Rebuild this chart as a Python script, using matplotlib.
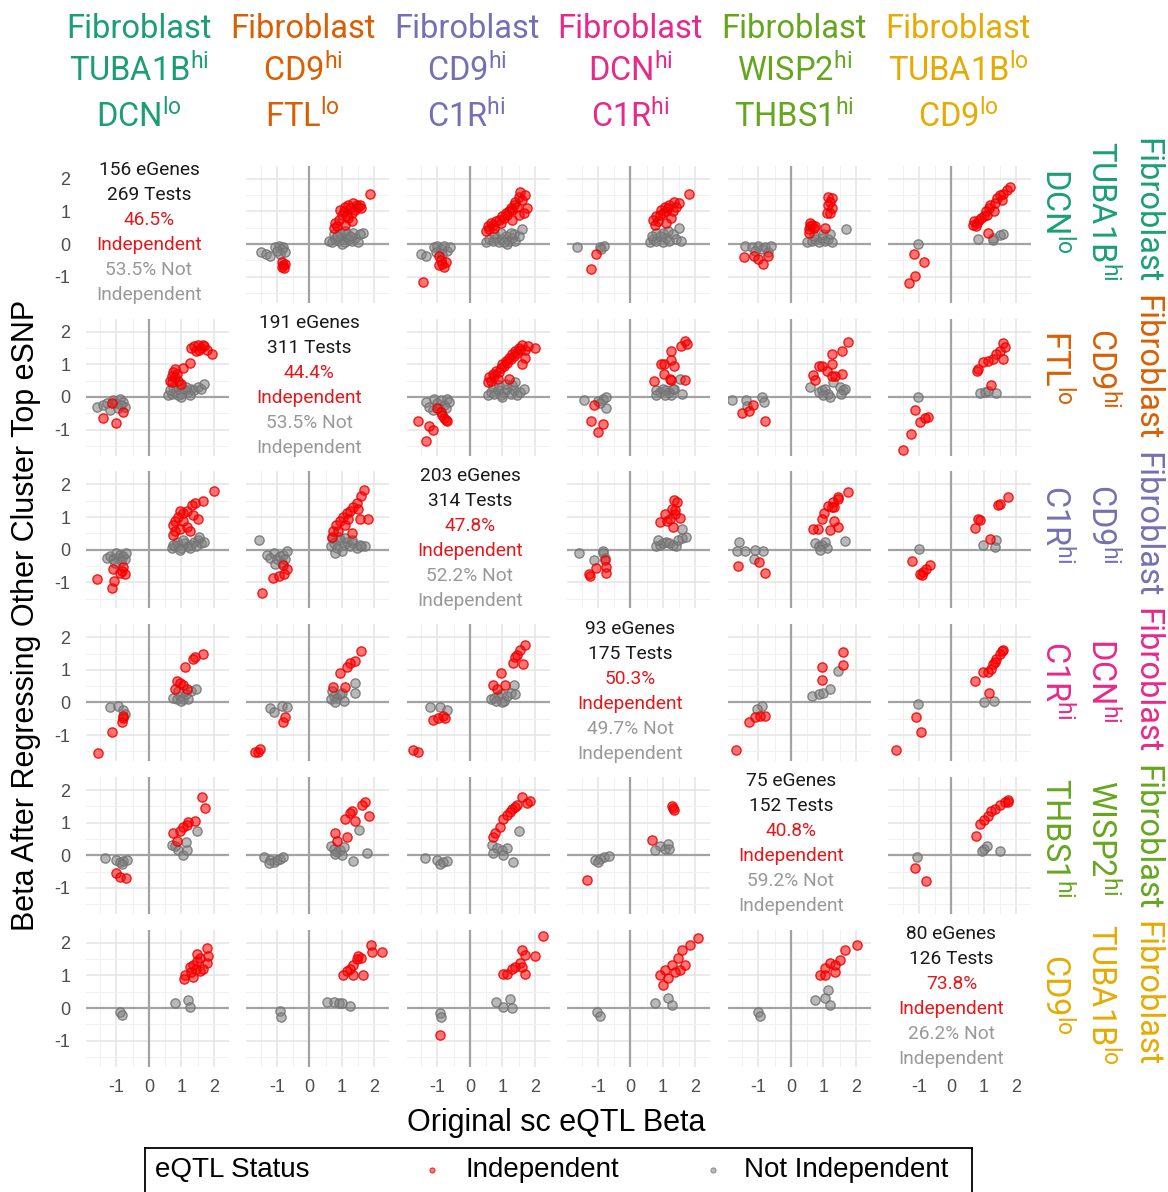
import matplotlib
matplotlib.use("Agg")
import matplotlib.pyplot as plt

plt.rcParams['font.family'] = ['Liberation Sans', 'DejaVu Sans']
plt.rcParams['axes.unicode_minus'] = False
plt.rcParams['mathtext.fontset'] = 'custom'
plt.rcParams['mathtext.rm'] = 'Roboto'
plt.rcParams['mathtext.it'] = 'Roboto:italic'
plt.rcParams['mathtext.bf'] = 'Roboto:bold'

# ---------------- labels ----------------
cluster_name = ["Fibroblast"] * 6
gene1 = ["TUBA1B", "CD9", "CD9", "DCN", "WISP2", "TUBA1B"]
sup1 = ["hi", "hi", "hi", "hi", "hi", "lo"]
gene2 = ["DCN", "FTL", "C1R", "C1R", "THBS1", "CD9"]
sup2 = ["lo", "lo", "hi", "hi", "hi", "lo"]
cluster_colors = ["#1B9E77", "#D95F02", "#7570B3", "#E7298A", "#66A61E", "#E6AB02"]

egenes = [156, 191, 203, 93, 75, 80]
tests = [269, 311, 314, 175, 152, 126]
pct_indep = ["46.5%", "44.4%", "47.8%", "50.3%", "40.8%", "73.8%"]
pct_not = ["53.5%", "53.5%", "52.2%", "49.7%", "59.2%", "26.2%"]

tick_vals = [-1, 0, 1, 2]
tick_labels = ["-1", "0", "1", "2"]

x_title = "Original sc eQTL Beta"
y_title = "Beta After Regressing Other Cluster Top eSNP"
legend_title = "eQTL Status"
status_labels = ["Independent", "Not Independent"]

# ---------------- data: (x, y) points per panel (row, col) ----------------
ind_0_1 = [(0.75,0.5),(0.8,0.65),(0.85,0.55),(0.9,0.75),(1.0,0.9),(1.05,1.0),(1.1,1.15),(1.15,0.85),(1.2,1.2),(1.25,1.1),(1.3,0.95),(1.35,1.25),(1.4,1.05),(1.45,1.2),(1.5,1.15),(1.3,0.7),(1.1,0.6),(1.85,1.55),(1.2,0.8),(0.95,1.05),(1.6,1.1),(1.55,1.2),(-0.85,-0.55),(-0.8,-0.65),(-0.75,-0.6),(-0.85,-0.7),(-0.78,-0.72)]
not_0_1 = [(0.6,0.1),(0.7,0.05),(0.8,0.15),(0.9,0.1),(1.0,0.2),(1.1,0.05),(1.2,0.15),(1.3,0.1),(1.4,0.2),(1.5,0.05),(0.75,0.3),(0.95,0.35),(1.15,0.3),(1.35,0.35),(1.0,0.0),(1.25,0.25),(1.65,0.35),(1.55,0.3),(0.85,0.25),(1.1,0.4),(-1.5,-0.25),(-1.35,-0.3),(-1.2,-0.35),(-1.05,-0.1),(-0.95,-0.05),(-0.85,-0.15),(-0.9,-0.3),(-0.8,-0.1),(-1.0,-0.2),(-0.75,-0.25)]
ind_0_2 = [(0.5,0.4),(0.55,0.55),(0.6,0.45),(0.7,0.6),(0.75,0.5),(0.8,0.7),(0.9,0.75),(0.95,0.65),(1.0,0.85),(1.05,0.8),(1.1,0.95),(1.15,0.9),(1.2,1.0),(1.25,1.1),(1.3,1.05),(1.35,1.2),(1.4,1.3),(1.45,1.15),(1.5,1.45),(1.55,1.6),(1.6,1.35),(1.7,1.5),(1.75,1.1),(1.5,0.9),(1.3,0.75),(1.65,0.95),(0.65,0.65),(-1.45,-1.15),(-0.95,-0.35),(-0.9,-0.5),(-0.85,-0.6),(-0.75,-0.55),(-0.8,-0.7),(-0.95,-0.65)]
not_0_2 = [(0.5,0.05),(0.6,0.15),(0.7,0.1),(0.8,0.2),(0.9,0.05),(1.0,0.15),(1.1,0.25),(1.2,0.1),(1.3,0.2),(1.4,0.1),(1.5,0.25),(0.75,0.3),(0.95,0.35),(1.15,0.0),(1.35,0.3),(1.6,0.45),(1.25,0.35),(1.05,0.05),(-1.5,-0.3),(-1.35,-0.35),(-1.1,-0.1),(-1.0,-0.05),(-0.9,-0.15),(-0.8,-0.05),(-0.7,-0.2),(-1.05,-0.25),(-0.6,-0.1),(-0.85,-0.3)]
ind_0_3 = [(0.7,0.75),(0.8,0.85),(0.85,0.7),(0.9,0.9),(0.95,1.05),(1.0,0.95),(1.05,1.15),(1.1,1.0),(1.15,1.1),(1.2,1.2),(1.3,1.0),(1.35,1.3),(1.4,1.15),(1.25,0.8),(1.8,1.55),(1.5,1.25),(0.75,0.6),(1.1,0.65),(-1.05,-0.3),(-1.2,-0.75)]
not_0_3 = [(0.6,0.05),(0.7,0.15),(0.8,0.1),(0.9,0.25),(1.0,0.05),(1.1,0.2),(1.2,0.1),(1.3,0.3),(1.0,0.35),(0.8,0.35),(1.4,0.15),(1.5,0.5),(1.55,0.1),(0.65,0.25),(1.15,0.4),(-1.65,-0.1),(-0.95,-0.1),(-0.8,-0.05),(-0.9,-0.15)]
ind_0_4 = [(1.15,1.45),(1.25,1.4),(1.2,1.3),(1.15,1.2),(1.25,1.1),(1.1,0.95),(1.2,0.95),(0.55,0.45),(0.6,0.55),(0.65,0.6),(0.7,0.5),(0.6,0.65),(0.75,0.55),(0.55,0.35),(1.05,0.5),(-1.45,-0.4),(-1.15,-0.35),(-0.85,-0.6),(-0.7,-0.35),(-1.0,-0.45)]
not_0_4 = [(0.5,0.05),(0.65,0.1),(0.75,0.15),(0.85,0.05),(0.95,0.2),(1.05,0.1),(1.15,0.15),(1.25,0.05),(0.7,0.25),(1.0,0.3),(1.7,0.45),(1.2,0.3),(-1.4,-0.05),(-1.2,-0.1),(-1.0,-0.05),(-0.9,-0.15),(-0.8,-0.1),(-0.7,-0.25),(-0.6,-0.05),(-1.1,-0.2)]
ind_0_5 = [(0.65,0.6),(0.7,0.7),(0.8,0.65),(0.85,0.75),(0.9,0.8),(1.0,0.85),(1.05,1.0),(1.1,0.9),(1.15,1.1),(1.2,1.2),(1.3,1.0),(1.35,1.25),(1.4,1.4),(1.5,1.5),(1.6,1.55),(1.7,1.65),(1.8,1.75),(1.55,1.35),(0.75,0.55),(1.11,0.33),(-1.15,-0.3),(-0.84,-0.54),(-1.13,-0.98),(-1.3,-1.2)]
not_0_5 = [(0.82,0.15),(1.28,0.18),(1.49,0.27),(1.58,0.3),(1.28,0.12),(-1.04,0.0)]

ind_1_0 = [(1.3,1.5),(1.4,1.55),(1.5,1.6),(1.6,1.5),(1.7,1.55),(1.8,1.45),(1.45,1.4),(1.55,1.45),(1.65,1.6),(1.95,1.3),(1.05,0.9),(1.25,1.05),(0.65,0.5),(0.7,0.65),(0.75,0.75),(0.8,0.6),(0.85,0.7),(0.9,0.5),(0.7,0.45),(1.0,0.4),(0.8,0.85),(-1.4,-0.65),(-1.0,-0.8),(-0.8,-0.45),(-1.15,-0.2)]
not_1_0 = [(0.6,0.05),(0.7,0.1),(0.8,0.15),(0.9,0.05),(1.0,0.1),(1.1,0.2),(1.2,0.15),(1.3,0.25),(1.4,0.2),(1.5,0.3),(1.6,0.25),(1.7,0.4),(0.75,0.3),(0.95,0.35),(1.15,0.3),(1.0,0.0),(0.65,0.2),(1.25,0.05),(-1.6,-0.3),(-1.4,-0.25),(-1.3,-0.2),(-1.2,-0.4),(-1.1,-0.1),(-1.0,-0.2),(-0.9,-0.05),(-0.8,-0.15),(-0.75,-0.3),(-0.95,-0.35),(-0.85,-0.25)]
ind_1_2 = [(0.55,0.45),(0.6,0.6),(0.65,0.5),(0.7,0.7),(0.75,0.65),(0.8,0.8),(0.9,0.75),(0.95,0.9),(1.0,1.0),(1.05,0.95),(1.1,1.1),(1.15,1.05),(1.2,1.2),(1.25,1.15),(1.3,1.3),(1.35,1.25),(1.4,1.4),(1.45,1.35),(1.5,1.5),(1.55,1.45),(1.6,1.6),(1.7,1.45),(1.8,1.55),(2.0,1.5),(1.7,1.2),(1.6,1.0),(1.2,0.55),(0.85,0.55),(-1.6,-0.75),(-1.25,-0.9),(-1.15,-1.0),(-1.35,-1.35),(-1.0,-0.35),(-0.9,-0.45),(-0.85,-0.55),(-0.8,-0.65),(-0.75,-0.7),(-0.7,-0.75)]
not_1_2 = [(0.55,0.05),(0.65,0.15),(0.75,0.1),(0.85,0.2),(0.95,0.05),(1.05,0.15),(1.15,0.25),(1.25,0.1),(1.35,0.2),(1.45,0.05),(1.55,0.15),(1.65,0.25),(0.7,0.3),(0.9,0.35),(1.1,0.4),(1.3,0.35),(1.0,0.0),(1.4,0.45),(-1.35,-0.15),(-1.25,-0.3),(-1.1,-0.05),(-1.0,-0.2),(-0.9,-0.1),(-0.8,-0.25),(-0.7,-0.05),(-0.65,-0.15),(-1.15,-0.4),(-0.95,-0.35),(-0.75,-0.35)]
ind_1_3 = [(1.67,1.72),(1.75,1.62),(1.54,1.56),(1.26,1.41),(0.95,1.0),(1.03,1.0),(1.26,1.12),(1.33,0.95),(1.03,0.7),(1.21,0.54),(1.26,0.51),(1.67,0.52),(0.73,0.49),(-1.12,-0.26),(-1.2,-0.74),(-0.84,-0.82),(-0.99,-1.09)]
not_1_3 = [(0.8,0.2),(0.9,0.15),(1.0,0.25),(1.1,0.2),(1.2,0.15),(1.3,0.25),(0.8,0.05),(1.25,0.05),(1.6,0.1),(1.52,0.55),(1.35,0.25),(1.05,0.05),(-1.44,-0.1),(-1.0,-0.14),(-0.84,-0.07),(-0.76,0.0),(-0.76,-0.33),(-0.94,-0.2)]
ind_1_4 = [(1.76,1.69),(1.56,1.41),(1.25,1.31),(1.25,1.0),(0.86,0.95),(0.69,0.67),(0.74,0.52),(1.1,0.8),(1.35,0.64),(1.56,0.7),(1.25,0.64),(0.94,0.95),(-1.52,-0.48),(-1.29,-0.43),(-1.16,-0.26),(-0.8,-0.74)]
not_1_4 = [(0.58,0.29),(0.85,0.15),(0.95,0.2),(1.05,0.25),(1.15,0.1),(1.0,0.05),(1.2,0.0),(1.3,0.46),(1.5,0.3),(1.6,0.2),(1.65,0.25),(1.55,0.1),(-1.83,-0.1),(-1.39,-0.1),(-0.9,0.0),(-0.82,-0.17),(-1.36,-0.28)]
ind_1_5 = [(1.59,1.65),(1.49,1.42),(1.38,1.32),(1.28,1.17),(1.13,1.11),(0.97,1.06),(0.82,0.86),(0.77,0.79),(1.59,1.17),(1.23,0.35),(1.64,1.52),(-1.13,-0.4),(-0.97,-0.78),(-0.82,-0.65),(-0.72,-0.62),(-1.25,-1.13),(-1.49,-1.63)]
not_1_5 = [(0.87,0.11),(1.03,0.14),(1.38,0.11),(1.13,0.17),(-1.03,0.0)]

ind_2_0 = [(2.0,1.8),(1.65,1.5),(1.42,1.42),(1.31,1.36),(1.16,1.18),(1.06,1.12),(0.95,1.18),(0.8,0.87),(0.75,0.75),(0.8,0.57),(0.73,0.45),(0.95,0.63),(1.16,0.69),(1.26,0.57),(1.52,0.93),(1.36,1.06),(1.06,0.87),(0.9,1.0),(-1.61,-0.91),(-1.15,-1.16),(-1.08,-0.95),(-1.1,-0.58),(-0.84,-0.64),(-0.74,-0.74),(-0.9,-0.7),(-0.79,-0.52)]
not_2_0 = [(0.7,0.05),(0.8,0.1),(0.9,0.15),(1.0,0.05),(1.1,0.2),(1.2,0.1),(1.3,0.15),(1.4,0.25),(1.5,0.3),(1.6,0.2),(1.7,0.25),(0.85,0.25),(1.05,0.3),(1.25,0.05),(1.45,0.1),(0.75,0.15),(1.55,0.4),(0.95,0.0),(-1.3,-0.25),(-1.2,-0.2),(-1.1,-0.3),(-1.0,-0.1),(-0.95,-0.25),(-0.9,-0.15),(-0.8,-0.2),(-0.75,-0.3),(-0.7,-0.1),(-0.85,-0.35),(-1.05,-0.4)]
ind_2_1 = [(1.68,1.84),(1.6,1.66),(1.45,1.42),(1.35,1.3),(1.25,1.18),(1.14,1.12),(1.04,0.99),(0.94,0.87),(0.83,0.75),(0.73,0.57),(0.68,0.39),(1.55,0.93),(1.8,0.93),(1.3,0.51),(1.09,0.75),(0.89,0.57),(1.19,0.93),(1.5,1.24),(-1.47,-1.33),(-1.11,-0.86),(-0.93,-0.82),(-0.78,-0.76),(-0.7,-0.58),(-0.81,-0.46)]
not_2_1 = [(0.65,0.1),(0.75,0.2),(0.85,0.05),(0.95,0.3),(1.05,0.15),(1.15,0.25),(1.25,0.1),(1.35,0.2),(1.45,0.05),(1.55,0.15),(1.7,0.1),(0.7,0.35),(0.9,0.4),(1.0,-0.05),(1.1,0.35),(1.3,0.3),(0.8,-0.1),(1.6,0.1),(-1.56,0.29),(-1.3,-0.15),(-1.2,-0.25),(-1.1,-0.1),(-1.0,-0.3),(-0.9,-0.2),(-0.8,-0.15),(-0.7,-0.05),(-1.05,-0.45),(-0.85,-0.4),(-0.75,-0.3)]
ind_2_3 = [(1.33,1.52),(1.42,1.45),(1.29,1.24),(1.06,1.09),(1.36,1.09),(0.9,0.84),(1.11,0.89),(1.31,0.71),(1.52,0.97),(1.23,0.94),(1.36,1.22),(-1.25,-0.8),(-1.28,-0.75),(-1.07,-0.56),(-0.79,-0.32),(-0.76,-0.54),(-0.74,-0.7)]
not_2_3 = [(0.8,0.1),(0.9,0.15),(1.0,0.2),(1.1,0.25),(1.2,0.2),(1.3,0.15),(1.4,0.1),(0.85,0.3),(1.6,0.35),(1.45,0.3),(1.57,0.63),(1.72,0.4),(-1.58,-0.1),(-0.86,-0.03),(-0.84,-0.11),(-1.13,-0.32),(-0.79,-0.26)]
ind_2_4 = [(1.74,1.76),(1.46,1.6),(1.3,1.45),(1.33,1.3),(1.15,1.35),(1.03,1.11),(0.94,0.94),(1.33,0.89),(1.46,0.71),(1.2,0.6),(0.84,0.63),(0.69,0.63),(1.46,1.55),(1.25,1.3),(-1.64,-0.49),(-0.97,-0.39),(-0.8,-0.7)]
not_2_4 = [(0.75,0.2),(0.85,0.1),(0.95,0.15),(1.05,0.25),(1.1,0.05),(0.9,0.0),(1.66,0.28),(-1.59,0.23),(-1.67,-0.03),(-1.1,0.0),(-0.85,-0.05),(-1.13,-0.29),(-1.4,-0.05)]
ind_2_5 = [(1.74,1.62),(1.49,1.41),(1.44,1.36),(0.82,0.95),(0.72,0.67),(0.87,0.9),(1.18,0.34),(-1.21,-0.35),(-0.97,-0.74),(-0.87,-0.68),(-0.77,-0.58),(-0.67,-0.48),(-0.92,-0.79)]
not_2_5 = [(0.97,0.13),(1.38,0.29),(1.33,0.08),(-0.99,0.03)]

ind_3_0 = [(1.67,1.48),(1.42,1.39),(1.36,1.33),(1.11,1.09),(0.85,0.67),(0.95,0.61),(1.06,0.55),(0.8,0.42),(1.16,0.42),(-0.79,-0.48),(-0.84,-0.61),(-0.79,-0.42),(-1.15,-0.92),(-1.58,-1.55)]
not_3_0 = [(0.75,0.15),(0.85,0.1),(0.95,0.2),(1.05,0.1),(1.15,0.25),(1.3,0.35),(1.45,0.4),(0.9,0.35),(1.0,0.05),(1.2,0.1),(-1.2,-0.15),(-0.94,-0.12),(-0.79,-0.24),(-0.74,-0.36)]
ind_3_1 = [(1.6,1.58),(1.4,1.27),(1.25,1.21),(1.14,1.09),(0.94,0.91),(0.73,0.48),(1.09,0.46),(-0.8,-0.61),(-0.75,-0.46),(-1.57,-1.52),(-1.68,-1.52),(-1.52,-1.43)]
not_3_1 = [(0.65,0.1),(0.75,0.2),(0.85,0.15),(0.95,0.25),(1.05,0.05),(0.8,0.0),(1.0,0.3),(1.4,0.6),(1.4,0.3),(0.7,0.35),(-1.2,-0.18),(-1.1,-0.3),(-0.85,-0.12),(-0.7,-0.15)]
ind_3_2 = [(1.69,1.76),(1.54,1.6),(1.44,1.45),(1.33,1.21),(1.38,1.39),(1.64,1.18),(0.95,0.91),(0.72,0.55),(0.82,0.42),(1.08,0.55),(-1.59,-1.52),(-1.74,-1.45),(-1.13,-0.55),(-0.97,-0.48),(-0.82,-0.42),(-0.76,-0.48)]
not_3_2 = [(0.65,0.1),(0.75,0.15),(0.85,0.2),(0.95,0.25),(1.05,0.05),(1.15,0.2),(1.25,0.3),(1.0,0.0),(1.35,0.55),(1.4,0.25),(0.8,0.05),(-1.23,-0.15),(-0.92,-0.15),(-0.72,-0.24)]
ind_3_4 = [(1.6,1.55),(1.6,1.15),(0.95,1.1),(0.95,0.7),(-1.7,-1.45),(-1.3,-0.6),(-1.1,-0.45),(-0.95,-0.4),(-0.8,-0.4)]
not_3_4 = [(0.65,0.2),(0.85,0.25),(1.0,0.3),(1.2,0.4),(1.45,0.95),(-0.9,-0.1),(-1.05,-0.2)]
ind_3_5 = [(1.59,1.61),(1.49,1.49),(1.38,1.33),(1.28,1.18),(1.23,1.03),(1.13,0.92),(0.97,0.92),(0.72,0.65),(1.15,0.28),(1.54,1.57),(1.33,1.23),(-1.1,-0.43),(-0.94,-0.91),(-1.71,-1.47)]
not_3_5 = [(1.0,0.0),(1.31,0.06),(-1.03,-0.04)]

ind_4_0 = [(1.62,1.78),(1.72,1.45),(1.42,1.05),(1.21,1.03),(1.06,0.87),(0.95,0.75),(0.75,0.69),(0.85,0.45),(1.16,0.93),(-1.0,-0.55),(-0.89,-0.67),(-0.72,-0.7)]
not_4_0 = [(0.7,0.33),(0.8,0.27),(0.9,0.15),(1.06,0.02),(1.16,0.15),(1.49,0.73),(1.14,0.41),(-1.35,-0.07),(-1.0,-0.13),(-0.89,-0.22),(-0.79,-0.18),(-0.69,-0.13),(-0.84,-0.28)]
ind_4_1 = [(1.72,1.64),(1.62,1.54),(1.3,1.36),(1.25,1.3),(1.09,1.12),(1.4,1.05),(1.82,1.21),(0.79,0.69),(1.14,0.57),(0.84,0.45)]
not_4_1 = [(0.65,0.3),(0.75,0.2),(0.85,0.1),(0.95,0.15),(1.05,0.25),(1.0,0.0),(0.8,0.05),(1.53,0.79),(1.76,0.08),(1.35,-0.16),(-1.4,-0.05),(-1.2,-0.15),(-1.1,-0.2),(-1.0,-0.15),(-0.9,-0.1),(-0.8,-0.05),(-1.25,-0.25)]
ind_4_2 = [(1.6,1.78),(1.75,1.6),(1.44,1.54),(1.29,1.42),(1.13,1.24),(1.03,1.12),(0.92,0.87),(0.77,0.69),(0.72,0.57),(1.85,1.66),(1.39,1.48),(1.23,1.32)]
not_4_2 = [(0.67,0.33),(0.82,0.21),(0.97,0.15),(1.13,0.21),(0.72,0.08),(1.03,0.0),(1.52,0.75),(1.33,-0.22),(-1.38,-0.07),(-1.03,-0.13),(-0.92,-0.28),(-0.82,-0.22),(-0.72,-0.16)]
ind_4_3 = [(1.28,1.5),(1.33,1.38),(1.3,1.45),(0.66,0.46),(-1.34,-0.77)]
not_4_3 = [(0.9,0.3),(1.05,0.2),(1.15,0.35),(1.2,0.2),(0.75,0.15),(-1.1,-0.15),(-0.95,-0.1),(-0.8,-0.05),(-0.65,-0.03),(-1.0,-0.2)]
ind_4_5 = [(1.74,1.7),(1.66,1.63),(1.49,1.55),(1.33,1.42),(1.23,1.35),(1.11,1.19),(1.0,1.08),(0.87,0.96),(0.75,0.58),(1.74,1.63),(-1.13,-0.4),(-0.77,-0.78)]
not_4_5 = [(1.0,0.19),(1.08,0.3),(0.94,0.12),(1.49,0.12),(-1.05,-0.04)]

ind_5_0 = [(1.77,1.85),(1.82,1.61),(1.77,1.37),(1.57,1.55),(1.47,1.43),(1.36,1.31),(1.26,1.25),(1.11,1.0),(1.08,0.88),(1.36,0.95),(1.57,1.13),(1.67,1.19),(1.47,1.67),(1.3,1.1),(1.45,1.2)]
not_5_0 = [(0.8,0.16),(1.21,0.25),(1.26,0.04),(-0.89,-0.11),(-0.84,-0.21)]
ind_5_1 = [(1.88,1.92),(2.22,1.73),(1.91,1.73),(1.6,1.55),(1.45,1.49),(1.35,1.31),(1.24,1.19),(1.14,1.13),(1.04,1.0),(1.35,1.0),(1.65,1.0),(1.5,1.61)]
not_5_1 = [(0.55,0.2),(0.75,0.18),(0.9,0.15),(1.25,0.05),(1.0,0.16),(-0.9,-0.08),(-0.88,-0.27)]
ind_5_2 = [(2.26,2.22),(2.0,1.61),(1.59,1.77),(1.69,1.64),(1.54,1.39),(1.38,1.25),(1.28,1.19),(1.13,1.04),(1.03,1.03),(1.69,1.04),(1.59,1.25),(-0.92,-0.81)]
not_5_2 = [(0.8,0.18),(1.03,0.04),(1.22,0.28),(1.29,0.01),(-0.92,-0.15),(-0.9,-0.27)]
ind_5_3 = [(0.91,1.01),(1.06,1.17),(1.15,0.92),(1.28,1.32),(1.46,1.53),(1.6,1.78),(1.83,1.93),(2.08,2.15),(1.52,1.17),(1.37,1.1),(1.68,1.32),(1.0,0.7)]
not_5_3 = [(0.75,0.15),(1.15,0.3),(1.28,0.09),(-1.03,-0.12),(-0.94,-0.25)]
ind_5_4 = [(0.89,1.0),(1.05,1.23),(1.2,1.38),(1.35,1.32),(1.51,1.47),(1.66,1.78),(2.03,1.93),(1.05,1.0),(1.35,1.1)]
not_5_4 = [(0.74,0.25),(1.05,0.3),(1.2,0.1),(1.14,0.55),(-1.02,-0.12),(-0.95,-0.25)]

independent = {
    (0,1): ind_0_1, (0,2): ind_0_2, (0,3): ind_0_3, (0,4): ind_0_4, (0,5): ind_0_5,
    (1,0): ind_1_0, (1,2): ind_1_2, (1,3): ind_1_3, (1,4): ind_1_4, (1,5): ind_1_5,
    (2,0): ind_2_0, (2,1): ind_2_1, (2,3): ind_2_3, (2,4): ind_2_4, (2,5): ind_2_5,
    (3,0): ind_3_0, (3,1): ind_3_1, (3,2): ind_3_2, (3,4): ind_3_4, (3,5): ind_3_5,
    (4,0): ind_4_0, (4,1): ind_4_1, (4,2): ind_4_2, (4,3): ind_4_3, (4,5): ind_4_5,
    (5,0): ind_5_0, (5,1): ind_5_1, (5,2): ind_5_2, (5,3): ind_5_3, (5,4): ind_5_4,
}
not_independent = {
    (0,1): not_0_1, (0,2): not_0_2, (0,3): not_0_3, (0,4): not_0_4, (0,5): not_0_5,
    (1,0): not_1_0, (1,2): not_1_2, (1,3): not_1_3, (1,4): not_1_4, (1,5): not_1_5,
    (2,0): not_2_0, (2,1): not_2_1, (2,3): not_2_3, (2,4): not_2_4, (2,5): not_2_5,
    (3,0): not_3_0, (3,1): not_3_1, (3,2): not_3_2, (3,4): not_3_4, (3,5): not_3_5,
    (4,0): not_4_0, (4,1): not_4_1, (4,2): not_4_2, (4,3): not_4_3, (4,5): not_4_5,
    (5,0): not_5_0, (5,1): not_5_1, (5,2): not_5_2, (5,3): not_5_3, (5,4): not_5_4,
}

# ---------------- figure ----------------
W, H = 1168, 1192
fig = plt.figure(figsize=(W / 100, H / 100), dpi=100)
fig.patch.set_facecolor("white")

RED_FACE = (1.0, 0.0, 0.0, 0.55)
RED_EDGE = (0.93, 0.0, 0.0, 0.85)
GRAY_FACE = (0.5, 0.5, 0.5, 0.55)
GRAY_EDGE = (0.45, 0.45, 0.45, 0.85)
TXT_RED = "#E3191C"
TXT_GRAY = "#999999"
TXT_DARK = "#1A1A1A"

XLIM = (-1.95, 2.45)
YLIM = (-1.8, 2.4)
PW, PH = 143, 137


def fx(px):
    return px / W


def fy(py):
    return 1 - py / H


for r in range(6):
    for c in range(6):
        left = 85.6 + 160.5 * c
        top = 165.8 + 152.8 * r
        ax = fig.add_axes([fx(left), fy(top + PH), PW / W, PH / H])
        ax.set_xlim(*XLIM)
        ax.set_ylim(*YLIM)
        for s in ax.spines.values():
            s.set_visible(False)
        ax.set_xticks(tick_vals)
        ax.set_yticks(tick_vals)
        ax.tick_params(length=0, labelsize=13, colors="#4D4D4D", pad=9)
        ax.tick_params(axis="y", pad=11)
        if c == 0:
            ax.set_yticklabels(tick_labels)
        else:
            ax.set_yticklabels([])
        if r == 5:
            ax.set_xticklabels(tick_labels)
        else:
            ax.set_xticklabels([])
        ax.set_facecolor("white")
        if r == c:
            ax.grid(False)
            lines = [f"{egenes[r]} eGenes", f"{tests[r]} Tests", pct_indep[r],
                     "Independent", f"{pct_not[r]} Not", "Independent"]
            cols = [TXT_DARK, TXT_DARK, TXT_RED, TXT_RED, TXT_GRAY, TXT_GRAY]
            for i, (t, col) in enumerate(zip(lines, cols)):
                ax.text(0, 0.35 + (2.5 - i) * 0.767, t, ha="center", va="center",
                        fontsize=13.8, color=col, family="Roboto")
            continue
        ax.set_xticks([-1.5, -0.5, 0.5, 1.5], minor=True)
        ax.set_yticks([-1.5, -0.5, 0.5, 1.5], minor=True)
        ax.tick_params(which="minor", length=0)
        ax.grid(True, which="major", color="#E4E4E4", linewidth=1.1)
        ax.grid(True, which="minor", color="#F0F0F0", linewidth=0.7)
        ax.set_axisbelow(True)
        ax.axhline(0, color="#A3A3A3", linewidth=1.6, zorder=1)
        ax.axvline(0, color="#A3A3A3", linewidth=1.6, zorder=1)
        gx = [p[0] for p in not_independent[(r, c)]]
        gy = [p[1] for p in not_independent[(r, c)]]
        rx = [p[0] for p in independent[(r, c)]]
        ry = [p[1] for p in independent[(r, c)]]
        ax.scatter(gx, gy, s=44, facecolors=GRAY_FACE, edgecolors=GRAY_EDGE,
                   linewidths=1.0, zorder=3)
        ax.scatter(rx, ry, s=44, facecolors=RED_FACE, edgecolors=RED_EDGE,
                   linewidths=1.0, zorder=4)

# ---------------- column headers ----------------
for c in range(6):
    xc = fx(139 + 163.8 * c)
    col = cluster_colors[c]
    fig.text(xc, fy(38), cluster_name[c], ha="center", va="baseline",
             fontsize=23.5, color=col, family="Roboto")
    fig.text(xc, fy(82), rf"$\mathrm{{{gene1[c]}}}^{{\mathrm{{{sup1[c]}}}}}$",
             ha="center", va="baseline", fontsize=23.5, color=col)
    fig.text(xc, fy(128), rf"$\mathrm{{{gene2[c]}}}^{{\mathrm{{{sup2[c]}}}}}$",
             ha="center", va="baseline", fontsize=23.5, color=col)

# ---------------- row labels (right side) ----------------
for r in range(6):
    yc = fy(211 + 156.6 * r)
    col = cluster_colors[r]
    fig.text(fx(1137), yc, cluster_name[r], ha="center", va="baseline",
             rotation=270, rotation_mode="anchor", fontsize=23.5, color=col,
             family="Roboto")
    fig.text(fx(1090), yc, rf"$\mathrm{{{gene1[r]}}}^{{\mathrm{{{sup1[r]}}}}}$",
             ha="center", va="baseline", rotation=270, rotation_mode="anchor",
             fontsize=23.5, color=col)
    fig.text(fx(1045), yc, rf"$\mathrm{{{gene2[r]}}}^{{\mathrm{{{sup2[r]}}}}}$",
             ha="center", va="baseline", rotation=270, rotation_mode="anchor",
             fontsize=23.5, color=col)

# ---------------- axis titles ----------------
fig.text(fx(556), fy(1123), x_title, ha="center", va="center", fontsize=22,
         color="black")
fig.text(fx(26), fy(615), y_title, ha="center", va="center", rotation=90,
         fontsize=22, color="black")

# ---------------- legend ----------------
lax = fig.add_axes([fx(145), fy(1202), (972 - 145) / W, 54 / H])
lax.set_xlim(0, 1)
lax.set_ylim(0, 1)
lax.set_xticks([])
lax.set_yticks([])
for s in lax.spines.values():
    s.set_color("black")
    s.set_linewidth(1.3)
ly = (1202 - 1170) / 54
lax.text((155 - 145) / 827, ly, legend_title, ha="left", va="center", fontsize=20)
lax.scatter([(432 - 145) / 827], [ly], s=14, color=RED_FACE, edgecolors=RED_EDGE,
            linewidths=0.6)
lax.text((466 - 145) / 827, ly, status_labels[0], ha="left", va="center", fontsize=20)
lax.scatter([(713 - 145) / 827], [ly], s=14, color=GRAY_FACE, edgecolors=GRAY_EDGE,
            linewidths=0.6)
lax.text((744 - 145) / 827, ly, status_labels[1], ha="left", va="center", fontsize=20)

fig.savefig("out.png", dpi=100)
